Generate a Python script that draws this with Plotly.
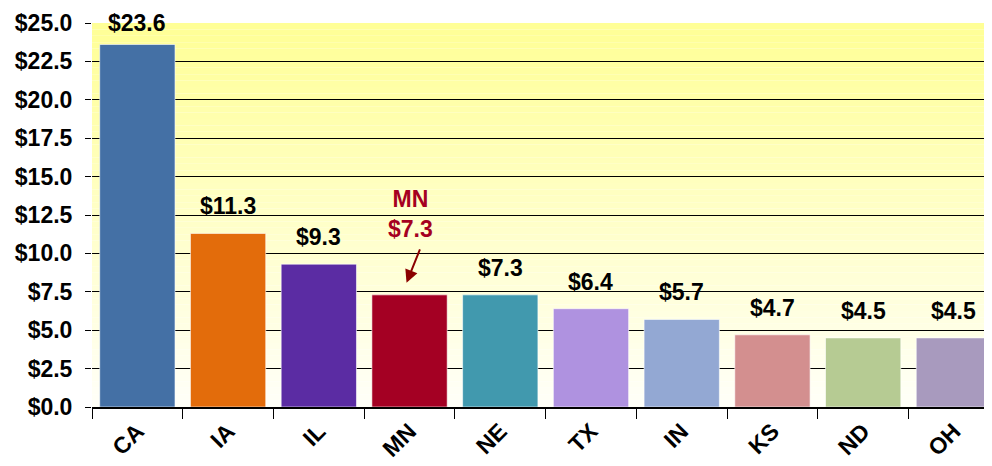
import plotly.graph_objects as go

states = ["CA", "IA", "IL", "MN", "NE", "TX", "IN", "KS", "ND", "OH"]
values = [23.6, 11.3, 9.3, 7.3, 7.3, 6.4, 5.7, 4.7, 4.5, 4.5]
bar_colors = ["#4470A5", "#E36C0B", "#5B2CA3", "#A40023", "#4199AE",
              "#AF92E0", "#93A8D3", "#D38F8F", "#B6CB93", "#A89ABE"]
y_ticks = [i * 2.5 for i in range(11)]
highlight = "MN"

FONT = "Liberation Sans, Arial, sans-serif"
RED = "#A50021"
SIZE = 23

fig = go.Figure(go.Bar(
    x=states, y=values,
    marker=dict(color=bar_colors, line=dict(color="rgba(255,255,255,0.6)", width=1)),
    width=0.83,
    hoverinfo="x+y",
))

# yellow-to-white gradient for the plot background
shapes = []
n = 60
top, bottom = (255, 255, 150), (255, 255, 248)
for i in range(n):
    f = i / (n - 1)
    c = tuple(round(top[k] + (bottom[k] - top[k]) * f) for k in range(3))
    shapes.append(dict(
        type="rect", xref="paper", yref="paper", layer="below",
        x0=0, x1=1, y0=1 - (i + 1) / n, y1=1 - i / n,
        fillcolor=f"rgb{c}", line=dict(width=0),
    ))

annotations = []
for s, v in zip(states, values):
    if s == highlight:
        continue
    # tallest bar's label sits a little lower so it stays on the page
    annotations.append(dict(
        x=s, y=v, yshift=22 if v == max(values) else 27,
        text=f"<b>${v:.1f}</b>", showarrow=False,
        font=dict(family=FONT, size=SIZE, color="black"),
    ))

# callout for the highlighted state: separate text and arrow
mn_val = values[states.index(highlight)]
annotations.append(dict(
    x=highlight, y=mn_val, yshift=81, xshift=1,
    text=f"<b>{highlight}<br>${mn_val:.1f}</b>", showarrow=False,
    font=dict(family=FONT, size=SIZE, color=RED),
))
annotations.append(dict(
    x=highlight, y=mn_val, yshift=12, xshift=-3, text="",
    showarrow=True, arrowhead=2, arrowsize=1.3, arrowwidth=2, arrowcolor="#8B0000",
    ax=14, ay=-35,
))

# page body has an 8px margin, so the figure is a bit smaller than the window
fig.update_layout(
    width=984, height=458,
    paper_bgcolor="white", plot_bgcolor="rgba(0,0,0,0)",
    margin=dict(l=84, r=0, t=15, b=59),
    showlegend=False,
    bargap=0.17,
    shapes=shapes,
    annotations=annotations,
    font=dict(family=FONT, size=SIZE, color="black"),
    xaxis=dict(
        type="category", range=[-0.5, 9.42], automargin=False,
        tickvals=states, ticktext=[f"<b>{s}</b>" for s in states],
        showline=True, linecolor="black", linewidth=1.5,
        ticks="outside", tickson="boundaries", ticklen=10, tickcolor="black",
        tickangle=-45, tickfont=dict(family=FONT, size=SIZE, color="black"),
        showgrid=False,
    ),
    yaxis=dict(
        range=[0, 25], tickvals=y_ticks, automargin=False,
        ticktext=[f"<b>${t:.1f}</b>" for t in y_ticks],
        showgrid=True, gridcolor="black", gridwidth=1,
        ticks="outside", ticklen=6, tickcolor="black", ticklabelstandoff=8,
        showline=False, zeroline=False,
        tickfont=dict(family=FONT, size=SIZE, color="black"),
    ),
)

fig.write_html("out.html")
